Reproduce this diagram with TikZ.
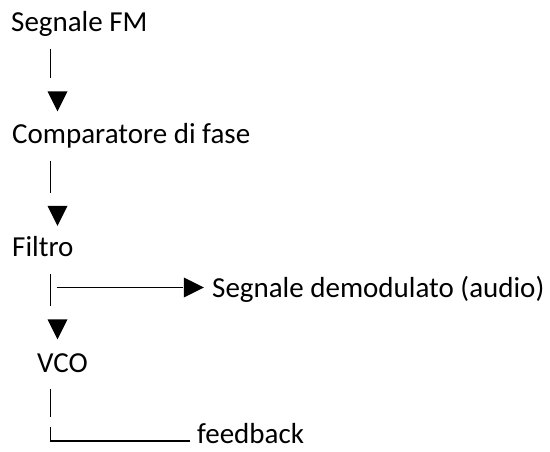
\documentclass[tikz,border=0pt]{standalone}
\usepackage{fontspec}
\setmainfont{Carlito}
\usetikzlibrary{shapes.geometric}

\tikzset{
  lbl/.style={anchor=base west, inner sep=0pt, font=\fontsize{29}{35}\selectfont},
  tri/.style={isosceles triangle, isosceles triangle stretches, fill=black,
    inner sep=0pt, minimum width=20pt, minimum height=20pt},
  bar/.style={line width=1.5pt, shorten <=17pt, shorten >=13pt}
}

\begin{document}
\begin{tikzpicture}[x=1pt, y=-1pt]
  \useasboundingbox (0,0) rectangle (550,452);
  \coordinate (bx) at (50.5,0);
  \node[lbl] (sfm) at (11,32) {Segnale FM};
  \node[lbl] (cmp) at (12,144) {Comparatore di fase};
  \node[lbl] (flt) at (12,257) {Filtro};
  \node[lbl] (dem) at (212,297) {Segnale demodulato (audio)};
  \node[lbl] (vco) at (37,372) {VCO};
  \node[lbl] (fb) at (197,443) {feedback};
  \node[tri, shape border rotate=270] (a1) at (57.5,97.5) {};
  \node[tri, shape border rotate=270] (a2) at (57.5,212) {};
  \node[tri, shape border rotate=270] (a3) at (57.5,325.5) {};
  \node[tri] (a4) at (190,287.5) {};
  \draw[bar] (sfm.base -| bx) -- (a1.north -| bx); % Segnale FM -- Comparatore
  \draw[bar] (cmp.base -| bx) -- (a2.north -| bx); % Comparatore -- Filtro
  \draw[bar] (flt.base -| bx) -- (a3.north -| bx); % Filtro -- VCO
  \draw[bar, shorten <=6pt, shorten >=1pt] (bx |- a4.west) -- (a4.west); % Filtro -- audio
  \draw[bar, shorten >=0pt] (vco.base -| bx) -- ([yshift=-45pt]vco.base -| bx); % VCO
  \draw[bar, shorten <=0pt, shorten >=7pt] ([yshift=-55pt]vco.base -| bx) |- ([yshift=2pt]fb.base west); % VCO -- feedback
\end{tikzpicture}
\end{document}
